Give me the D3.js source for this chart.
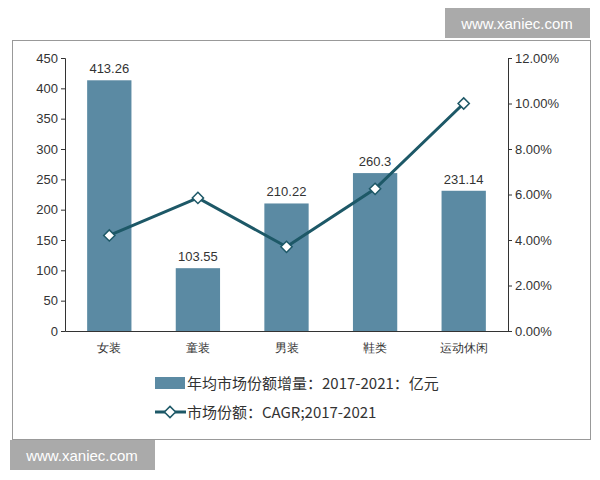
<!DOCTYPE html>
<html><head><meta charset="utf-8">
<script src="https://cdn.jsdelivr.net/npm/d3@7"></script>
<style>body{margin:0;background:#fff;font-family:"Noto Sans CJK SC","Liberation Sans",sans-serif}</style>
</head><body><svg id="c" width="600" height="480"></svg>
<script>
const categories = ["女装", "童装", "男装", "鞋类", "运动休闲"];
const increment = [413.26, 103.55, 210.22, 260.3, 231.14];
const cagr = [0.042, 0.0585, 0.037, 0.0625, 0.100];
const leftTicks = [0, 50, 100, 150, 200, 250, 300, 350, 400, 450];
const rightTicks = [0, 0.02, 0.04, 0.06, 0.08, 0.10, 0.12];

const barColor = "#5b8aa3", lineColor = "#1d5867";
const m = {left: 65, right: 508, top: 58, bottom: 331};
const svg = d3.select("#c");

svg.append("rect").attr("x", 12.5).attr("y", 40.5).attr("width", 578).attr("height", 399)
  .attr("fill", "#fff").attr("stroke", "#999");

const x = d3.scaleBand().domain(categories).range([m.left, m.right]).paddingInner(0.5).paddingOuter(0.25);
const y = d3.scaleLinear().domain([0, 450]).range([m.bottom, m.top]);
const y2 = d3.scaleLinear().domain([0, 0.12]).range([m.bottom, m.top]);

svg.append("g").attr("transform", `translate(${m.left},0)`)
  .call(d3.axisLeft(y).tickValues(leftTicks).tickSize(4))
  .call(g => g.selectAll("text").attr("font-size", 13).attr("fill", "#333").attr("font-family", "Liberation Sans"))
  .call(g => g.selectAll("line,path").attr("stroke", "#333"));
svg.append("g").attr("transform", `translate(${m.right},0)`)
  .call(d3.axisRight(y2).tickValues(rightTicks).tickFormat(d3.format(".2%")).tickSize(4))
  .call(g => g.selectAll("text").attr("font-size", 13).attr("fill", "#333").attr("font-family", "Liberation Sans"))
  .call(g => g.selectAll("line,path").attr("stroke", "#333"));

svg.append("g").selectAll("rect").data(increment).join("rect")
  .attr("x", (d, i) => x(categories[i])).attr("width", x.bandwidth())
  .attr("y", d => y(d)).attr("height", d => y(0) - y(d)).attr("fill", barColor);

svg.append("g").attr("transform", `translate(0,${m.bottom})`)
  .call(d3.axisBottom(x).tickSize(0).tickPadding(12))
  .call(g => g.selectAll("text").attr("font-size", 12).attr("fill", "#333"))
  .call(g => g.select(".domain").attr("stroke", "#333"));

svg.append("g").selectAll("text").data(increment).join("text")
  .attr("x", (d, i) => x(categories[i]) + x.bandwidth() / 2).attr("y", d => y(d) - 7)
  .attr("text-anchor", "middle").attr("font-size", 13).attr("fill", "#333")
  .attr("font-family", "Liberation Sans").text(d => d);

const line = d3.line().x((d, i) => x(categories[i]) + x.bandwidth() / 2).y(d => y2(d));
svg.append("path").datum(cagr).attr("d", line).attr("fill", "none")
  .attr("stroke", lineColor).attr("stroke-width", 3);
const diamond = d3.symbol().type(d3.symbolDiamond2).size(80);
svg.append("g").selectAll("path").data(cagr).join("path")
  .attr("transform", (d, i) => `translate(${x(categories[i]) + x.bandwidth() / 2},${y2(d)})`)
  .attr("d", diamond).attr("fill", "#fff").attr("stroke", lineColor).attr("stroke-width", 1.5);

// legend
const lg = svg.append("g");
lg.append("rect").attr("x", 155).attr("y", 377).attr("width", 30).attr("height", 12).attr("fill", barColor);
lg.append("text").attr("x", 187).attr("y", 389).attr("font-size", 15).attr("fill", "#333").text("年均市场份额增量：2017-2021：亿元");
lg.append("line").attr("x1", 155).attr("x2", 186).attr("y1", 412).attr("y2", 412).attr("stroke", lineColor).attr("stroke-width", 3);
lg.append("path").attr("transform", "translate(170,412)").attr("d", diamond).attr("fill", "#fff").attr("stroke", lineColor).attr("stroke-width", 1.5);
lg.append("text").attr("x", 187).attr("y", 418).attr("font-size", 15).attr("fill", "#333").text("市场份额：CAGR;2017-2021");

// watermarks
[[445, 8], [10, 440]].forEach(([wx, wy]) => {
  svg.append("rect").attr("x", wx).attr("y", wy).attr("width", 145).attr("height", 30).attr("fill", "#aaa");
  svg.append("text").attr("x", wx + 72).attr("y", wy + 21).attr("text-anchor", "middle")
    .attr("font-size", 15).attr("fill", "#fff").attr("font-family", "Liberation Sans").text("www.xaniec.com");
});
</script></body></html>
